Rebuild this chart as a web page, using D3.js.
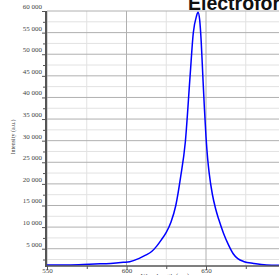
<!DOCTYPE html>
<html>
<head>
<meta charset="utf-8">
<script src="https://cdn.jsdelivr.net/npm/d3@7"></script>
<style>
  body { margin: 0; background: #fff; }
  svg { display: block; }
</style>
</head>
<body>
<div id="chart"></div>
<script>
// spectrum
var wavelength = [550,560,570,580,590,598,602,608,612,616,619,622,625,628,631,634,637,640,642,644,645,646,647,648,649,650,651,652,654,656,658,661,664,667,670,674,680,688,700];
var intensity = [1250,1250,1300,1450,1600,1850,2000,2750,3500,4400,5600,7100,8800,11200,15000,21500,29700,45000,54900,58800,59700,58000,52800,45000,37500,30900,26000,22500,17600,14300,11800,8600,6000,3900,2700,2000,1600,1250,1150];

var yTicks = [5000,10000,15000,20000,25000,30000,35000,40000,45000,50000,55000,60000];
var yMinor = [2500,7500,12500,17500,22500,27500,32500,37500,42500,47500,52500,57500];
var xTicks = [550,600,650,700];
var xMinor = [575,625,675];

var width = 279, height = 275;

var svg = d3.select("#chart")
    .append("svg")
    .attr("width", width)
    .attr("height", height);

var x = d3.scaleLinear().domain([550, 700]).range([47, 285.5]);
var y = d3.scaleLinear().domain([1000, 60000]).range([266, 11]);

var fmt = d3.formatLocale({decimal: ".", thousands: " ", grouping: [3], currency: ["", ""]}).format(",");

//grid first, light ones under the dark ones
svg.append("g").selectAll("line")
    .data(yMinor)
    .enter()
    .append("line")
    .attr("x1", 47).attr("x2", width)
    .attr("y1", function(d){ return y(d); })
    .attr("y2", function(d){ return y(d); })
    .attr("stroke", "#e2e2e2");

svg.append("g").selectAll("line")
    .data(xMinor)
    .enter()
    .append("line")
    .attr("x1", function(d){ return x(d); })
    .attr("x2", function(d){ return x(d); })
    .attr("y1", y(60000)).attr("y2", 266)
    .attr("stroke", "#e2e2e2");

svg.append("g").selectAll("line")
    .data(yTicks)
    .enter()
    .append("line")
    .attr("x1", 47).attr("x2", width)
    .attr("y1", function(d){ return y(d); })
    .attr("y2", function(d){ return y(d); })
    .attr("stroke", "#b0b0b0");

svg.append("g").selectAll("line")
    .data(xTicks)
    .enter()
    .append("line")
    .attr("x1", function(d){ return x(d); })
    .attr("x2", function(d){ return x(d); })
    .attr("y1", y(60000)).attr("y2", 266)
    .attr("stroke", "#b0b0b0");

// the curve
var line = d3.line()
    .x(function(d, i){ return x(wavelength[i]); })
    .y(function(d){ return y(d); })
    .curve(d3.curveMonotoneX);

svg.append("path")
    .datum(intensity)
    .attr("d", line)
    .attr("fill", "none")
    .attr("stroke", "#0000ff")
    .attr("stroke-width", 1.5);

// y axis
var yAxis = svg.append("g")
    .attr("transform", "translate(46,0)")
    .call(d3.axisLeft(y).tickValues(yTicks).tickSize(4).tickPadding(0).tickFormat(fmt));
yAxis.append("g").call(d3.axisLeft(y).tickValues(yMinor).tickSize(3).tickFormat(""));
yAxis.selectAll("text")
    .attr("dy", "-2.5px")
    .attr("font-family", "Liberation Serif, serif")
    .attr("font-size", 7)
    .attr("fill", "#444");
yAxis.selectAll("path.domain").remove();
yAxis.selectAll("line").attr("stroke", "#555");

// x axis
var xAxis = svg.append("g")
    .attr("transform", "translate(0,266)")
    .call(d3.axisBottom(x).tickValues(xTicks).tickSize(4).tickPadding(-2).tickFormat(d3.format("d")));
xAxis.append("g").call(d3.axisBottom(x).tickValues(xMinor).tickSize(3).tickFormat(""));
xAxis.selectAll("text")
    .attr("font-family", "Liberation Serif, serif")
    .attr("font-size", 7)
    .attr("fill", "#444");
xAxis.selectAll("path.domain").remove();
xAxis.selectAll("line").attr("stroke", "#555");

// axis lines
svg.append("line")
    .attr("x1", 46).attr("x2", 46)
    .attr("y1", y(60000)).attr("y2", 267)
    .attr("stroke", "#555").attr("stroke-width", 2);
svg.append("line")
    .attr("x1", 45).attr("x2", width)
    .attr("y1", 266).attr("y2", 266)
    .attr("stroke", "#555").attr("stroke-width", 1.5);

// titles
svg.append("text")
    .attr("transform", "translate(15,137) rotate(-90)")
    .attr("text-anchor", "middle")
    .attr("font-family", "Liberation Serif, serif")
    .attr("font-size", 6)
    .attr("fill", "#444")
    .text("Intensity (a.u.)");

svg.append("text")
    .attr("x", 165).attr("y", 278)
    .attr("text-anchor", "middle")
    .attr("font-family", "Liberation Serif, serif")
    .attr("font-size", 7)
    .attr("fill", "#444")
    .text("Wavelength (nm)");

svg.append("text")
    .attr("x", 188).attr("y", 10)
    .attr("font-family", "Liberation Sans, Arial, sans-serif")
    .attr("font-weight", "bold")
    .attr("font-size", 19.5)
    .attr("fill", "#111")
    .text("Electroforesis");
</script>
</body>
</html>
